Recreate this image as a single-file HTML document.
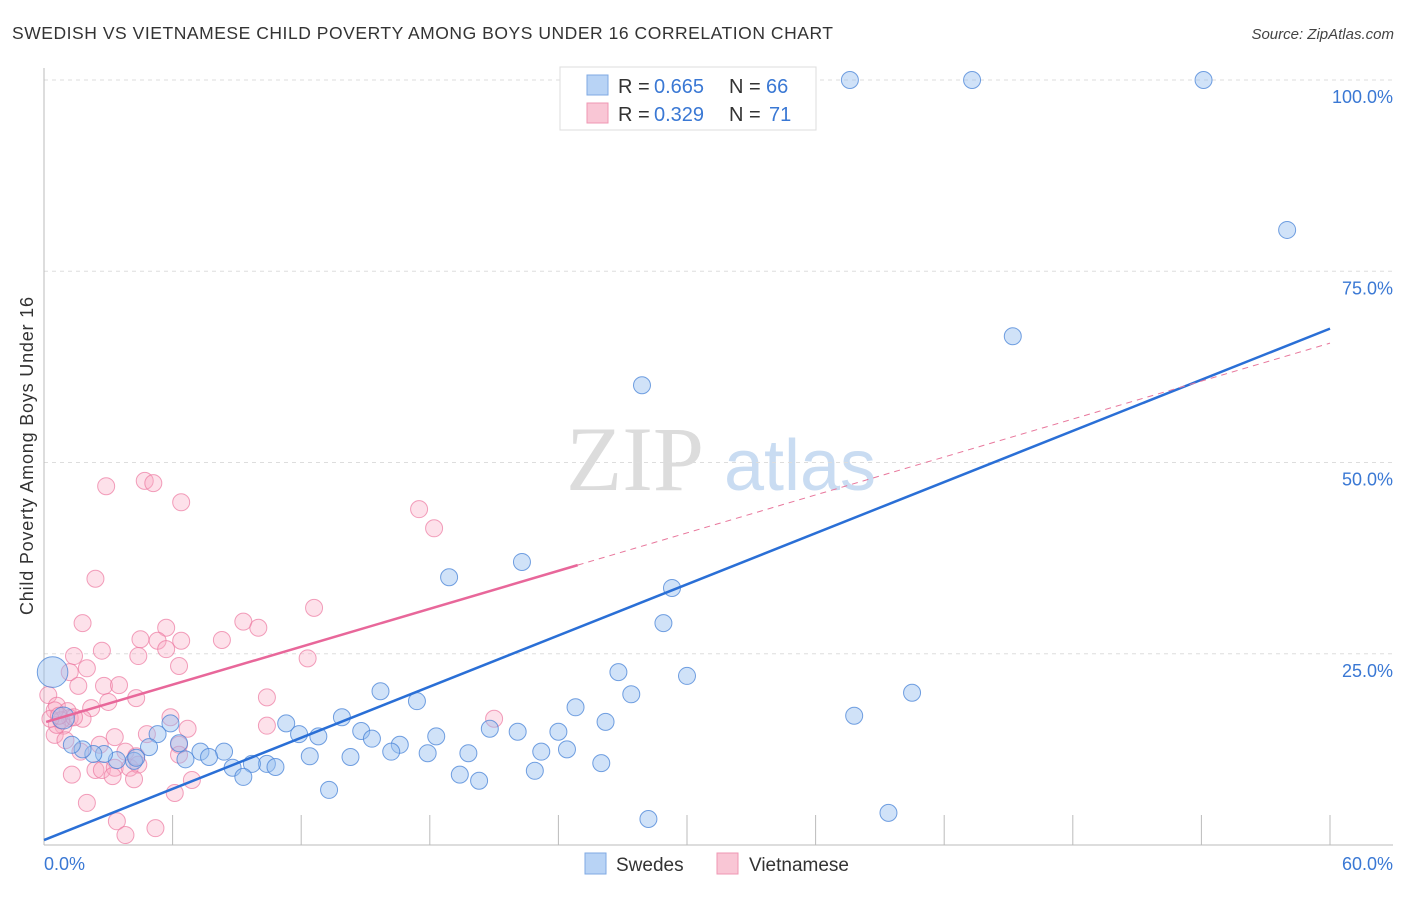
<!DOCTYPE html>
<html><head><meta charset="utf-8"><style>
body{margin:0;background:#fff;font-family:"Liberation Sans",sans-serif}
</style></head><body>
<svg id="chart" width="1406" height="892" viewBox="0 0 1406 892" xmlns="http://www.w3.org/2000/svg" font-family="Liberation Sans, sans-serif">
<text x="12" y="39" font-size="17.5" fill="#333" textLength="821" lengthAdjust="spacing">SWEDISH VS VIETNAMESE CHILD POVERTY AMONG BOYS UNDER 16 CORRELATION CHART</text>
<text x="1394" y="39" font-size="15" fill="#444" font-style="italic" text-anchor="end">Source: ZipAtlas.com</text>
<text transform="translate(33,456) rotate(-90)" font-size="18" fill="#333" text-anchor="middle" textLength="318" lengthAdjust="spacing">Child Poverty Among Boys Under 16</text>
<g>
<text x="635" y="490" font-size="92" font-family="Liberation Serif, serif" fill="#dcdcdc" text-anchor="middle">ZIP</text>
<text x="800" y="490" font-size="72" fill="#c9dcf2" text-anchor="middle">atlas</text>
</g>
<g id="grid"></g>
<g id="axes"></g>
<g id="pts"></g>
<g id="trends"></g>
<g>
<rect x="560" y="67" width="256" height="63" fill="#fff" stroke="#ddd"/>
<rect x="587" y="75" width="21" height="20" fill="#b8d3f5" stroke="#7fa9e3"/>
<text x="618" y="93" font-size="20" fill="#333">R =</text>
<text x="654" y="93" font-size="20" fill="#3a78d4">0.665</text>
<text x="729" y="93" font-size="20" fill="#333">N =</text>
<text x="766" y="93" font-size="20" fill="#3a78d4">66</text>
<rect x="587" y="103" width="21" height="20" fill="#f9c6d5" stroke="#ef97b3"/>
<text x="618" y="121" font-size="20" fill="#333">R =</text>
<text x="654" y="121" font-size="20" fill="#3a78d4">0.329</text>
<text x="729" y="121" font-size="20" fill="#333">N =</text>
<text x="769" y="121" font-size="20" fill="#3a78d4">71</text>
</g>
<g>
<rect x="585" y="853" width="21" height="21" fill="#b8d3f5" stroke="#7fa9e3"/>
<text x="616" y="871" font-size="19" fill="#333">Swedes</text>
<rect x="717" y="853" width="21" height="21" fill="#f9c6d5" stroke="#ef97b3"/>
<text x="749" y="871" font-size="19" fill="#333">Vietnamese</text>
</g>
</svg>
<script>
const yTicks=[25,50,75,100];
const yTickLabels=["25.0%","50.0%","75.0%","100.0%"];
const xTickVals=[0,6,12,18,24,30,36,42,48,54,60];
const xEndLabels=["0.0%","60.0%"];
const sweX=[37.6,43.3,54.1,58.0,45.2,27.9,18.9,22.3,29.3,28.9,30.0,26.8,27.4,40.5,37.8,24.8,26.2,17.4,15.7,11.3,13.9,11.9,12.8,14.8,15.3,16.6,18.3,19.8,20.8,22.1,24.0,23.2,24.4,17.9,16.2,14.3,12.4,8.4,7.3,6.6,5.9,5.3,4.9,4.2,3.4,2.8,2.3,1.8,1.3,0.4,0.9,10.4,9.7,10.8,8.8,9.3,19.4,20.3,22.9,26.0,13.3,28.2,39.4,6.3,7.7,4.3];
const sweY=[100,100,100,80.4,66.5,60.1,35.0,37.0,33.6,29.0,22.1,22.6,19.7,19.9,16.9,18.0,16.1,18.8,20.1,15.9,16.7,14.5,14.2,14.9,13.9,13.1,14.2,12.0,15.2,14.8,14.8,12.2,12.5,12.0,12.2,11.5,11.6,12.2,12.2,11.2,15.9,14.5,12.8,11.0,11.1,11.9,11.9,12.5,13.1,22.6,16.6,10.6,10.6,10.2,10.1,8.9,9.2,8.4,9.7,10.7,7.2,3.4,4.2,13.3,11.5,11.4];
const sweWeight=[1,1,1,1,1,1,1,1,1,1,1,1,1,1,1,1,1,1,1,1,1,1,1,1,1,1,1,1,1,1,1,1,1,1,1,1,1,1,1,1,1,1,1,1,1,1,1,1,1,1.8,1.3,1,1,1,1,1,1,1,1,1,1,1,1,1,1,1];
const vieX=[2.9,4.7,5.1,6.4,17.5,18.2,2.4,12.6,1.8,9.3,10.0,5.7,4.5,5.3,8.3,6.4,5.7,12.3,4.4,2.7,1.4,6.3,2.0,1.2,0.2,0.6,1.6,2.8,3.5,4.3,10.4,3.0,2.2,1.1,0.5,1.2,0.9,0.5,1.8,6.3,5.9,10.4,6.7,4.8,21.0,3.8,3.3,1.7,2.4,1.3,2.7,3.3,4.0,4.3,4.4,6.3,6.9,6.1,4.2,3.2,2.0,3.4,3.8,5.2,0.6,0.8,0.3,0.7,1.4,2.6,1.0];
const vieY=[46.9,47.6,47.3,44.8,43.9,41.4,34.8,31.0,29.0,29.2,28.4,28.4,26.9,26.7,26.8,26.7,25.6,24.4,24.7,25.4,24.7,23.4,23.1,22.6,19.6,18.2,20.8,20.8,20.9,19.2,19.3,18.7,17.9,17.5,17.6,16.6,15.6,14.4,16.5,13.1,16.7,15.6,15.2,14.5,16.5,12.2,14.1,12.2,9.8,9.2,9.8,10.1,10.1,11.6,10.5,11.8,8.5,6.8,8.6,9.0,5.5,3.1,1.3,2.2,15.7,16.3,16.5,16.9,16.7,13.1,13.7];
const sweTrend=[0.65,67.5];      // y at x=0 and x=60
const vieTrend=[16.0,65.6];      // y at x=0 and x=60
const vieSolidEnd=24.9;

const X0=44,X1=1330,Y0=845,Y100=80;
const sx=v=>X0+(X1-X0)*v/60;
const sy=v=>Y0-(Y0-Y100)*v/100;
const NS="http://www.w3.org/2000/svg";
function mk(tag,attrs,parent){const e=document.createElementNS(NS,tag);for(const k in attrs)e.setAttribute(k,attrs[k]);parent.appendChild(e);return e;}
const grid=document.getElementById('grid'),axes=document.getElementById('axes'),pts=document.getElementById('pts'),tr=document.getElementById('trends');
yTicks.forEach((t,i)=>{
  const l=mk('line',{x1:X0,x2:1393,y1:sy(t),y2:sy(t),stroke:'#ddd','stroke-dasharray':'4,4'},grid);
  
  
  const tx=mk('text',{x:1393,y:sy(t)+23,'font-size':18,fill:'#3a78d4','text-anchor':'end'},axes);
  tx.textContent=yTickLabels[i];
  
  
});
const ya=mk('line',{x1:X0,x2:X0,y1:68,y2:Y0,stroke:'#bbb'},axes);


const xa=mk('line',{x1:X0,x2:1393,y1:Y0,y2:Y0,stroke:'#bbb'},axes);


xTickVals.forEach(v=>{
  if(v===0)return;
  const t=mk('line',{x1:sx(v),x2:sx(v),y1:815,y2:Y0,stroke:'#bbb'},axes);
  
  
});
const xl0=mk('text',{x:44,y:870,'font-size':18,fill:'#3a78d4'},axes);xl0.textContent=xEndLabels[0];


const xl1=mk('text',{x:1393,y:870,'font-size':18,fill:'#3a78d4','text-anchor':'end'},axes);xl1.textContent=xEndLabels[1];


vieX.forEach((x,i)=>{
  const c=mk('circle',{cx:sx(x),cy:sy(vieY[i]),r:8.5,fill:'rgba(248,170,195,0.35)',stroke:'rgba(236,120,160,0.7)','stroke-width':1},pts);
  
  
});
sweX.forEach((x,i)=>{
  const c=mk('circle',{cx:sx(x),cy:sy(sweY[i]),r:8.5*sweWeight[i],fill:'rgba(150,190,240,0.45)',stroke:'rgba(70,130,215,0.75)','stroke-width':1},pts);
  
  
});
const bl=mk('line',{x1:sx(0),y1:sy(sweTrend[0]),x2:sx(60),y2:sy(sweTrend[1]),stroke:'#2a6fd6','stroke-width':2.5},tr);


const vy=x=>vieTrend[0]+(vieTrend[1]-vieTrend[0])*x/60;
const pd=mk('line',{x1:sx(vieSolidEnd),y1:sy(vy(vieSolidEnd)),x2:sx(60),y2:sy(vy(60)),stroke:'#e8779c','stroke-width':1,'stroke-dasharray':'6,5'},tr);


const ps=mk('line',{x1:sx(0.1),y1:sy(vy(0.1)),x2:sx(vieSolidEnd),y2:sy(vy(vieSolidEnd)),stroke:'#e8679a','stroke-width':2.5},tr);


</script>
</body></html>
